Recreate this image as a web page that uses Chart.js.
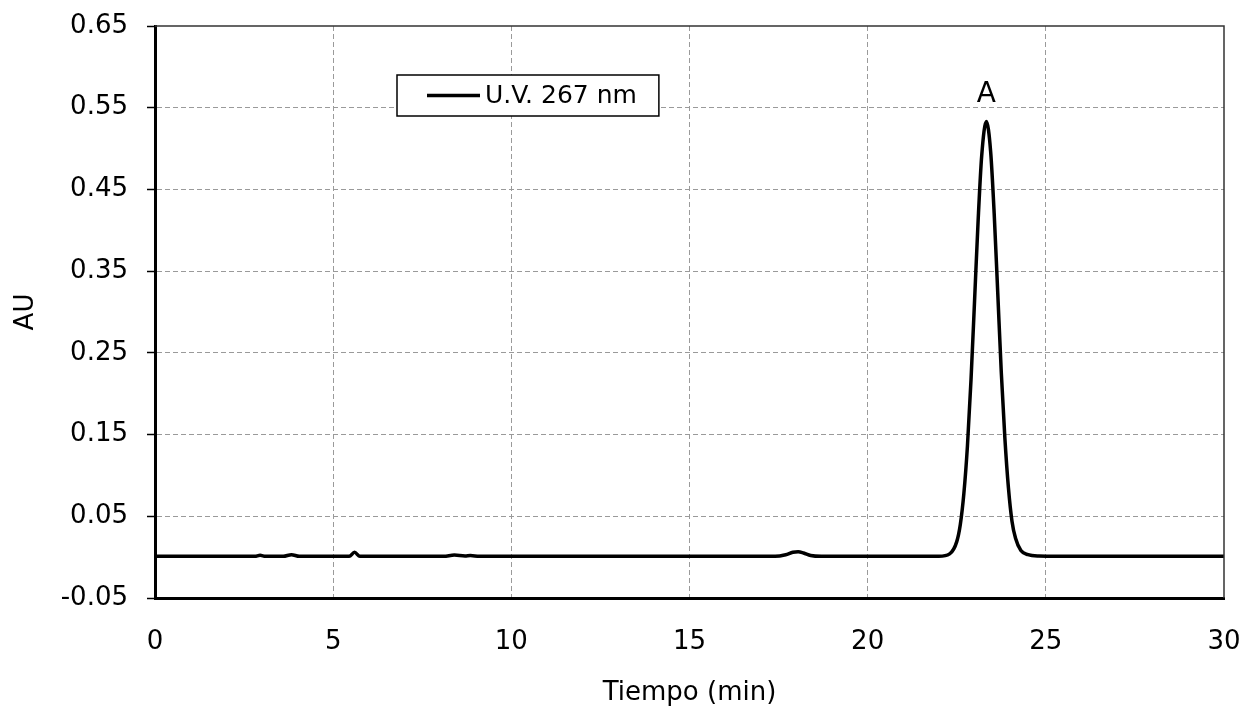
<!DOCTYPE html>
<html>
<head>
<meta charset="utf-8">
<script src="https://cdn.jsdelivr.net/npm/chart.js@4.4.1/dist/chart.umd.min.js"></script>
<style>
  body { margin: 0; background: #fff; }
  canvas { display: block; }
</style>
</head>
<body>
<canvas id="myChart" width="1243" height="709"></canvas>
<script>
"use strict";

// retention time (min) and absorbance (AU)
let times = [0, 1, 2, 2.8, 2.95, 3.1, 3.6, 3.83, 4.05, 5, 5.45, 5.6, 5.75, 6.2, 8.1, 8.4, 8.7, 8.85, 9.1, 12, 16, 17.4, 17.7, 17.9, 18.05, 18.2, 18.4, 18.7, 19.5, 21,
  22, 22.3, 22.5, 22.6, 22.7, 22.8, 22.9, 23, 23.1, 23.2, 23.33, 23.45, 23.55, 23.65, 23.75, 23.85, 23.95, 24.05, 24.15, 24.3, 24.5, 24.8, 26, 28, 30];
let absorbance = [0.001, 0.001, 0.001, 0.001, 0.0022, 0.001, 0.001, 0.003, 0.001, 0.001, 0.001, 0.006, 0.001, 0.001, 0.001, 0.0025, 0.0015, 0.002, 0.001, 0.001, 0.001, 0.001, 0.003, 0.006, 0.0065, 0.005, 0.002, 0.001, 0.001, 0.001,
  0.001, 0.004, 0.019, 0.040, 0.078, 0.136, 0.217, 0.314, 0.412, 0.491, 0.533, 0.497, 0.421, 0.324, 0.226, 0.146, 0.085, 0.044, 0.023, 0.008, 0.003, 0.0015, 0.001, 0.001, 0.001];

let xTicks = [0, 5, 10, 15, 20, 25, 30];
let yTicks = [-0.05, 0.05, 0.15, 0.25, 0.35, 0.45, 0.55, 0.65];
let seriesName = "U.V. 267 nm";
let peakName = "A";
let peakTime = 23.33;
let peakValue = 0.533;

let points = [];
for (let i = 0; i < times.length; i++) points.push({ x: times[i], y: absorbance[i] });

let font = "DejaVu Sans";
Chart.defaults.font.family = font;
Chart.defaults.color = "#000";

let framePlugin = {
  id: "frame",
  afterDraw(chart) {
    let ctx = chart.ctx, a = chart.chartArea;
    ctx.save();
    ctx.strokeStyle = "#333";
    ctx.lineWidth = 1.5;
    ctx.beginPath();
    ctx.moveTo(a.left, a.top);
    ctx.lineTo(a.right, a.top);
    ctx.lineTo(a.right, a.bottom);
    ctx.stroke();

    // peak label
    let xs = chart.scales.x, ys = chart.scales.y;
    ctx.fillStyle = "#000";
    ctx.font = "28px '" + font + "'";
    ctx.textAlign = "center";
    ctx.textBaseline = "alphabetic";
    ctx.fillText(peakName, xs.getPixelForValue(peakTime), ys.getPixelForValue(peakValue) - 20);

    // legend box
    ctx.font = "25px '" + font + "'";
    let lx = a.left + 242, ly = a.top + 49;
    let tw = ctx.measureText(seriesName).width;
    let w = 30 + 53 + 5 + tw + 22, h = 41;
    ctx.fillStyle = "#fff";
    ctx.fillRect(lx, ly, w, h);
    ctx.strokeStyle = "#000";
    ctx.lineWidth = 1.5;
    ctx.strokeRect(lx, ly, w, h);
    ctx.lineWidth = 3.5;
    ctx.beginPath();
    ctx.moveTo(lx + 30, ly + h / 2);
    ctx.lineTo(lx + 83, ly + h / 2);
    ctx.stroke();
    ctx.fillStyle = "#000";
    ctx.textAlign = "left";
    ctx.textBaseline = "middle";
    ctx.fillText(seriesName, lx + 88, ly + h / 2 + 1);
    ctx.restore();
  }
};

let chart = new Chart(document.getElementById("myChart"), {
  type: "line",
  data: {
    datasets: [{
      label: seriesName,
      data: points,
      borderColor: "#000",
      borderWidth: 3.5,
      pointRadius: 0,
      fill: false,
      cubicInterpolationMode: "monotone"
    }]
  },
  options: {
    responsive: false,
    animation: false,
    layout: { padding: { top: 26, right: 19, left: 0, bottom: 0 } },
    plugins: { legend: { display: false }, tooltip: { enabled: false } },
    scales: {
      x: {
        type: "linear",
        min: 0,
        max: 30,
        afterBuildTicks: function (scale) { scale.ticks = xTicks.map(v => ({ value: v })); },
        afterFit: function (scale) { scale.height = 111; scale.paddingLeft = 0; scale.paddingRight = 0; },
        ticks: { font: { size: 26 }, padding: 29, maxRotation: 0 },
        grid: {
          drawTicks: false,
          color: ctx => (ctx.tick && (ctx.tick.value === 0 || ctx.tick.value === 30)) ? "rgba(0,0,0,0)" : "#9a9a9a",
          lineWidth: 1
        },
        border: { color: "#000", width: 3, dash: [5, 3] },
        title: { display: true, text: "Tiempo (min)", font: { size: 26 }, padding: { top: 0, bottom: 0 } }
      },
      y: {
        type: "linear",
        min: -0.05,
        max: 0.65,
        afterBuildTicks: function (scale) { scale.ticks = yTicks.map(v => ({ value: v })); },
        afterFit: function (scale) { scale.width = 155; scale.paddingTop = 0; scale.paddingBottom = 0; },
        ticks: { font: { size: 26 }, padding: 19, callback: v => v.toFixed(2) },
        grid: {
          color: ctx => (ctx.tick && (ctx.tick.value === -0.05 || ctx.tick.value === 0.65)) ? "rgba(0,0,0,0)" : "#9a9a9a",
          lineWidth: 1,
          tickLength: 8,
          tickColor: "#000",
          tickWidth: 1.5,
          tickBorderDash: []
        },
        border: { color: "#000", width: 3, dash: [5, 3] },
        title: { display: true, text: "AU", font: { size: 26 }, padding: { top: 11, bottom: 0 } }
      }
    }
  },
  plugins: [framePlugin]
});
</script>
</body>
</html>
